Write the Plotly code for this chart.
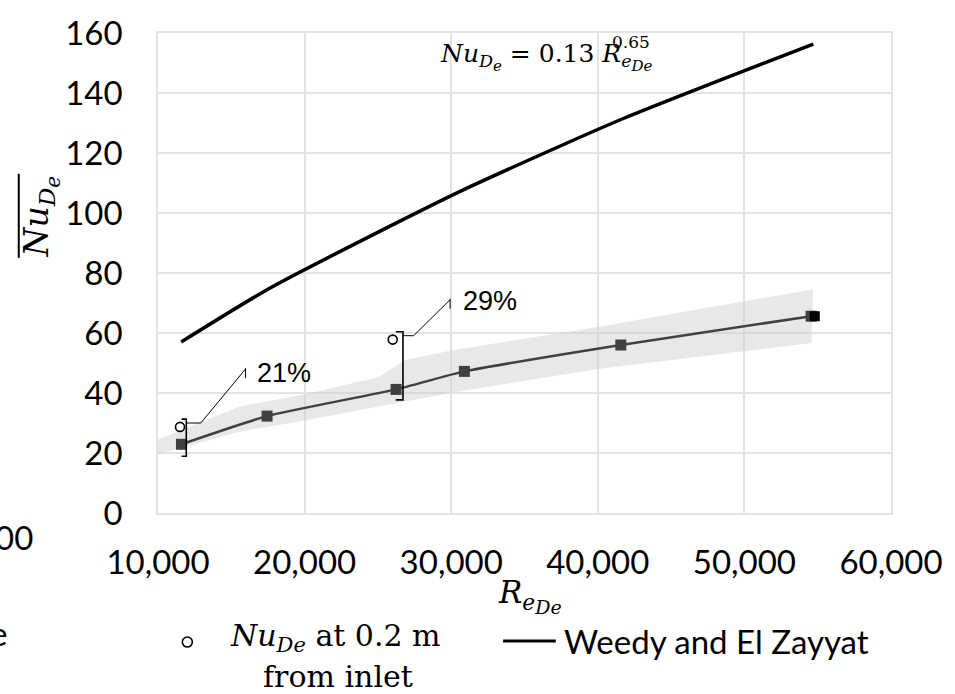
import plotly.graph_objects as go

# ---------------- data ----------------
# Weedy and El Zayyat correlation
re_weedy = [11580, 17500, 26300, 30900, 41500, 54700]
nu_weedy = [57.0, 74.6, 96.8, 107.9, 131.0, 156.3]

# measured average Nu (dark grey squares)
re_meas = [11600, 17440, 26240, 30900, 41570, 54550]
nu_meas = [22.9, 32.3, 41.2, 47.2, 56.0, 65.6]

# overlapping black marker at the end
re_black = [54800]
nu_black = [65.6]

# local Nu at 0.2 m from inlet (open circles)
re_local = [11500, 26010]
nu_local = [28.7, 57.8]

# shaded band (upper / lower edges)
re_band_up = [10000, 15560, 20090, 25060, 26870, 30000, 40000, 54690]
nu_band_up = [24.5, 35.5, 39.6, 45.3, 51.0, 54.2, 62.0, 74.6]
re_band_lo = [10000, 15560, 20090, 25500, 30000, 40000, 54570]
nu_band_lo = [19.6, 27.1, 30.9, 36.0, 40.1, 48.0, 56.7]

# difference labels
pct_labels = ["21%", "29%"]

x_ticks = [10000, 20000, 30000, 40000, 50000, 60000]
y_ticks = [0, 20, 40, 60, 80, 100, 120, 140, 160]

# ---------------- geometry helpers (pixel -> paper) ----------------
L, T, PW, PH = 158, 22, 737, 491


def px(x):
    return (x - L) / PW


def py(y):
    return (T + PH - y) / PH


def ss(txt, size):
    return f"<span style='font-size:{size}px'>{txt}</span>"


GRID = "#e3e3e3"
SERIF = "DejaVu Serif"
SANS = "Lato"

fig = go.Figure()

# band
fig.add_trace(go.Scatter(
    x=re_band_up + re_band_lo[::-1],
    y=nu_band_up + nu_band_lo[::-1],
    fill="toself", fillcolor="rgba(205,205,205,0.45)",
    line=dict(width=0), mode="lines", hoverinfo="skip", showlegend=False))

# Weedy line
fig.add_trace(go.Scatter(
    x=re_weedy, y=nu_weedy, mode="lines",
    line=dict(color="black", width=3.5, shape="spline", smoothing=0.6),
    showlegend=False))

# measured series
fig.add_trace(go.Scatter(
    x=re_meas, y=nu_meas, mode="lines+markers",
    line=dict(color="#404040", width=2.5, shape="spline", smoothing=0.5),
    marker=dict(symbol="square", size=11, color="#404040"),
    showlegend=False))

fig.add_trace(go.Scatter(
    x=re_black, y=nu_black, mode="markers",
    marker=dict(symbol="square", size=10, color="black"),
    showlegend=False))

# local circles
fig.add_trace(go.Scatter(
    x=re_local, y=nu_local, mode="markers",
    marker=dict(symbol="circle-open", size=9, color="black", line=dict(width=1.6)),
    showlegend=False))

shapes = []
annotations = []

# brackets + leaders built from the data
bracket_dx = [430, 700]
tick_dx = [320, 490]
top_pad = [2.6, 2.6]
bot_pad = [4.0, 3.5]
leader_h = [990, 730]
leader_dx = [4040, 3215]
leader_dy = [18.0, 12.0]
label_dx = [650, 745]
label_dy = [-1.4, -0.4]
for i in range(2):
    xb = re_local[i] + bracket_dx[i]
    xt = xb - tick_dx[i]
    yt = nu_local[i] + top_pad[i]
    yb = nu_meas[[0, 2][i]] - bot_pad[i]
    shapes.append(dict(type="path", xref="x", yref="y",
                       path=f"M {xt},{yt} L {xb},{yt} L {xb},{yb} L {xt},{yb}",
                       line=dict(color="black", width=1.6)))
    y1 = yt - 1.3
    x2 = xb + leader_h[i]
    x3 = xb + leader_dx[i]
    y3 = y1 + leader_dy[i]
    shapes.append(dict(type="path", xref="x", yref="y",
                       path=f"M {xb},{y1} L {x2},{y1} L {x3},{y3}",
                       line=dict(color="black", width=1)))
    shapes.append(dict(type="line", xref="x", yref="y",
                       x0=x3, x1=x3, y0=y3 + 0.3, y1=y3 - 3.0,
                       line=dict(color="black", width=1)))
    annotations.append(dict(x=x3 + label_dx[i], y=y3 + label_dy[i], xref="x", yref="y",
                            text=pct_labels[i], showarrow=False,
                            xanchor="left", yanchor="middle",
                            font=dict(family="Liberation Sans", size=27, color="black")))

# formula
annotations.append(dict(
    x=px(440), y=py(26), xref="paper", yref="paper", xanchor="left", yanchor="top",
    text=("<i>Nu</i><sub><i>D<sub>" + ss("e", 15) + "</sub></i></sub> = 0.13 "
          "<i>R</i><sub><i>e<sub>" + ss("De", 15) + "</sub></i></sub>"),
    showarrow=False, font=dict(family=SERIF, size=25, color="black")))
annotations.append(dict(
    x=px(612), y=py(31), xref="paper", yref="paper", xanchor="left", yanchor="middle",
    text="0.65", showarrow=False, font=dict(family=SERIF, size=17, color="black")))

# axis titles
annotations.append(dict(
    x=px(498), y=py(598), xref="paper", yref="paper", xanchor="left", yanchor="middle",
    text="<i>R</i><sub><i>e<sub>" + ss("De", 19) + "</sub></i></sub>",
    showarrow=False, font=dict(family=SERIF, size=31, color="black")))
annotations.append(dict(
    x=px(40), y=py(210), xref="paper", yref="paper", xanchor="center", yanchor="middle",
    textangle=-90,
    text="<i>Nu</i><sub><i>D<sub>" + ss("e", 20) + "</sub></i></sub>",
    showarrow=False, font=dict(family=SERIF, size=33, color="black")))
shapes.append(dict(type="line", xref="paper", yref="paper",
                   x0=px(18), x1=px(18), y0=py(166), y1=py(252),
                   line=dict(color="black", width=2)))

# cropped leftovers at left edge
annotations.append(dict(x=px(34), y=py(538), xref="paper", yref="paper",
                        xanchor="right", yanchor="middle", text="00", showarrow=False,
                        font=dict(family=SANS, size=33, color="black")))
annotations.append(dict(x=px(8), y=py(636), xref="paper", yref="paper",
                        xanchor="right", yanchor="middle", text="e", showarrow=False,
                        font=dict(family=SANS, size=33, color="black")))

# legend (manual)
shapes.append(dict(type="circle", xref="paper", yref="paper",
                   xsizemode="pixel", ysizemode="pixel",
                   xanchor=px(187.5), yanchor=py(645), x0=-5, x1=5, y0=-5, y1=5,
                   line=dict(color="black", width=1.6)))
annotations.append(dict(x=px(336), y=py(640), xref="paper", yref="paper",
                        xanchor="center", yanchor="middle",
                        text="<i>Nu</i><sub><i>De</i></sub> at 0.2 m", showarrow=False,
                        font=dict(family=SERIF, size=30, color="black")))
annotations.append(dict(x=px(339), y=py(680), xref="paper", yref="paper",
                        xanchor="center", yanchor="middle",
                        text="from inlet", showarrow=False,
                        font=dict(family=SERIF, size=30, color="black")))
shapes.append(dict(type="line", xref="paper", yref="paper",
                   x0=px(505), x1=px(558), y0=py(644), y1=py(644),
                   line=dict(color="black", width=3)))
annotations.append(dict(x=px(564), y=py(644), xref="paper", yref="paper",
                        xanchor="left", yanchor="middle",
                        text="Weedy and El Zayyat", showarrow=False,
                        font=dict(family=SANS, size=33, color="black")))

fig.update_layout(
    width=955, height=694,
    margin=dict(l=L, r=955 - L - PW, t=T, b=694 - T - PH),
    plot_bgcolor="white", paper_bgcolor="white",
    shapes=shapes, annotations=annotations,
    showlegend=False,
)
fig.update_xaxes(
    range=[10000, 60000], tickvals=x_ticks, tickformat=",",
    showgrid=True, gridcolor=GRID, gridwidth=1.5,
    showline=True, linecolor=GRID, linewidth=1.5, mirror=True, zeroline=False,
    ticks="outside", ticklen=20, tickcolor="rgba(0,0,0,0)",
    tickfont=dict(family=SANS, size=33, color="black"))
fig.update_yaxes(
    range=[0, 160], tickvals=y_ticks,
    showgrid=True, gridcolor=GRID, gridwidth=1.5,
    showline=True, linecolor=GRID, linewidth=1.5, mirror=True, zeroline=False,
    ticks="outside", ticklen=27, tickcolor="rgba(0,0,0,0)",
    tickfont=dict(family=SANS, size=33, color="black"))

fig.write_html("out.html")
